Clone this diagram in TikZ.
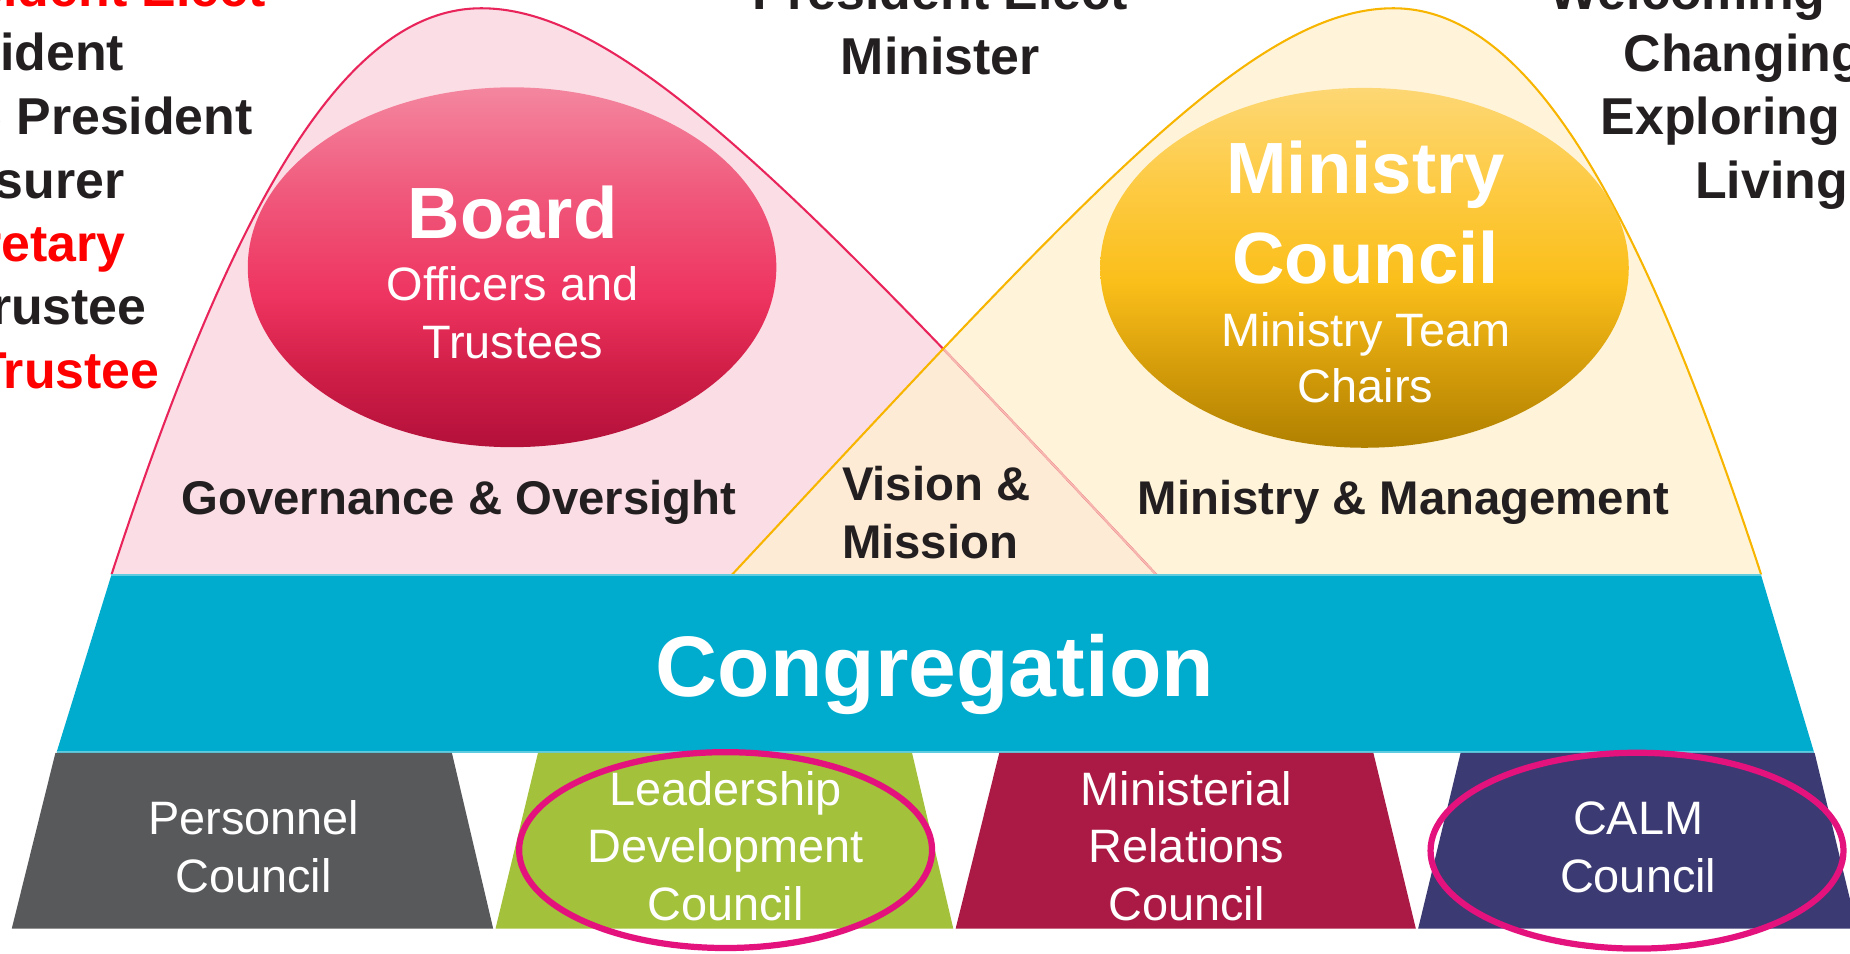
\documentclass[tikz,border=0pt]{standalone}
\usepackage{fontspec}
\setmainfont{Liberation Sans}
\definecolor{darktxt}{HTML}{231F20}
\definecolor{redtxt}{HTML}{FF0000}
\definecolor{pinkfill}{HTML}{FBDDE5}
\definecolor{pinkline}{HTML}{E8245A}
\definecolor{pinkfaint}{HTML}{F6B8AE}
\definecolor{yelfill}{HTML}{FFF4DA}
\definecolor{yelline}{HTML}{F7B500}
\definecolor{peach}{HTML}{FDEBD5}
\definecolor{bshA}{HTML}{B3103A}
\definecolor{bshB}{HTML}{D11F48}
\definecolor{bshC}{HTML}{EE3460}
\definecolor{bshD}{HTML}{F0587B}
\definecolor{bshE}{HTML}{F4869F}
\definecolor{mshA}{HTML}{B08000}
\definecolor{mshB}{HTML}{D49C0A}
\definecolor{mshC}{HTML}{FBBF1A}
\definecolor{mshD}{HTML}{FDCB45}
\definecolor{mshE}{HTML}{FDD774}
\definecolor{congr}{HTML}{00ACCE}
\definecolor{congrline}{HTML}{5FCCE0}
\definecolor{persgray}{HTML}{58595B}
\definecolor{leadgreen}{HTML}{A3C13B}
\definecolor{minired}{HTML}{AA1A44}
\definecolor{calmblue}{HTML}{3C3A72}
\definecolor{ringmag}{HTML}{E3127D}
\pgfdeclareverticalshading{boardshade}{100bp}{color(0bp)=(bshA); color(25bp)=(bshA); color(36bp)=(bshB); color(46bp)=(bshC); color(60bp)=(bshD); color(75bp)=(bshE); color(100bp)=(bshE)}
\pgfdeclareverticalshading{minshade}{100bp}{color(0bp)=(mshA); color(25bp)=(mshA); color(36bp)=(mshB); color(48bp)=(mshC); color(62bp)=(mshD); color(75bp)=(mshE); color(100bp)=(mshE)}
\tikzset{
  lst/.style={inner sep=0pt, font=\fontsize{12.5}{15}\selectfont\bfseries},
  lbl/.style={inner sep=0pt, text=darktxt, font=\fontsize{11.4}{14}\selectfont\bfseries},
  bigtxt/.style={inner sep=0pt, text=white, font=\fontsize{17.5}{21}\selectfont\bfseries},
  subtxt/.style={inner sep=0pt, text=white, font=\fontsize{11.3}{14}\selectfont},
  congtxt/.style={inner sep=0pt, text=white, font=\fontsize{20.7}{24}\selectfont\bfseries},
  hump/.style={line width=0.5pt},
  ring/.style={draw=ringmag, line width=1.5pt},
}
\def\pinkcurve{(94.5,487) .. controls (195,180) and (290,7) .. (408,7) .. controls (528,7) and (680,166) .. (980,487)}
\def\yelcurve{(1492.7,487) .. controls (1392,180) and (1298,7) .. (1181,7) .. controls (1061,7) and (920,166) .. (620.5,487)}
\begin{document}
\begin{tikzpicture}[x=0.01cm, y=-0.01cm]
\useasboundingbox (0,0) rectangle (1568,808);
\clip (0,0) rectangle (1568,808);
% humps
\fill[pinkfill] \pinkcurve -- cycle;
\fill[yelfill] \yelcurve -- cycle;
\begin{scope}
  \clip \pinkcurve -- cycle;
  \fill[peach] \yelcurve -- cycle;
\end{scope}
\draw[hump, pinkline] \pinkcurve;
\begin{scope}
  \clip \yelcurve -- cycle;
  \draw[hump, pinkfaint] \pinkcurve;
\end{scope}
\draw[hump, yelline] \yelcurve;
% ellipses
\path[shading=boardshade] (434,226.5) ellipse [x radius=224, y radius=152.5];
\path[shading=minshade] (1156.5,227) ellipse [x radius=224, y radius=152.5];
% congregation band
\fill[congr] (94.5,487) -- (1492.5,487) -- (1537.5,637.5) -- (48,637.5) -- cycle;
\draw[congrline, line width=0.5pt] (94.5,487) -- (1492.5,487);
\draw[congrline, line width=0.5pt] (48,637.5) -- (1537.5,637.5);
% councils
\fill[persgray] (47,638) -- (383,638) -- (418,787) -- (10,787) -- cycle;
\fill[leadgreen] (456,638) -- (773,638) -- (808,787) -- (420,787) -- cycle;
\fill[minired] (847,638) -- (1164,638) -- (1200,787) -- (810,787) -- cycle;
\fill[calmblue] (1238,638) -- (1538,638) -- (1574,787) -- (1202,787) -- cycle;
% left list
\node[lst, text=redtxt, anchor=base east] (l1) at (226,5.5) {President Elect};
\node[lst, text=darktxt, anchor=base east] (l2) at (106,60) {President};
\node[lst, text=darktxt, anchor=base east] (l3) at (215,114) {Vice President};
\node[lst, text=darktxt, anchor=base east] (l4) at (106,168) {Treasurer};
\node[lst, text=redtxt, anchor=base east] (l5) at (107,222) {Secretary};
\node[lst, text=darktxt, anchor=base east] (l6) at (125,275) {Trustee};
\node[lst, text=redtxt, anchor=base east] (l7) at (136,329) {Trustee};
% middle list
\node[lst, text=darktxt, anchor=base] (m1) at (797,8) {President Elect};
\node[lst, text=darktxt, anchor=base] (m2) at (797,63) {Minister};
% right list
\node[lst, text=darktxt, anchor=base west] (r1) at (1313,8) {Welcoming};
\node[lst, text=darktxt, anchor=base west] (r2) at (1375.5,61) {Changing};
\node[lst, text=darktxt, anchor=base west] (r3) at (1356,114) {Exploring};
\node[lst, text=darktxt, anchor=base west] (r4) at (1436,168) {Living};
% board text
\node[bigtxt, anchor=base] (board) at (434.5,202) {Board};
\node[subtxt, anchor=base] (board2) at (434.5,255) {Officers and};
\node[subtxt, anchor=base] (board3) at (434.5,303.6) {Trustees};
% ministry council text
\node[bigtxt, anchor=base] (mc1) at (1157.5,164) {Ministry};
\node[bigtxt, anchor=base] (mc2) at (1157.5,240) {Council};
\node[subtxt, anchor=base] (mc3) at (1157.5,293.6) {Ministry Team};
\node[subtxt, anchor=base] (mc4) at (1157.5,341.3) {Chairs};
% labels
\node[lbl, anchor=base] (gov) at (389,436.3) {Governance \& Oversight};
\node[lbl, anchor=base] (mm) at (1189.5,436.3) {Ministry \& Management};
\node[lbl, anchor=base west] (vm1) at (713,424.6) {Vision \&};
\node[lbl, anchor=base west] (vm2) at (713,473) {Mission};
\node[congtxt, anchor=base] (cong) at (792.5,590.5) {Congregation};
% council texts
\node[subtxt, anchor=base] (p1) at (215,707) {Personnel};
\node[subtxt, anchor=base] (p2) at (215,756.6) {Council};
\node[subtxt, anchor=base] (ld1) at (615,683) {Leadership};
\node[subtxt, anchor=base] (ld2) at (615,731.2) {Development};
\node[subtxt, anchor=base] (ld3) at (615,780.4) {Council};
\node[subtxt, anchor=base] (mr1) at (1005.5,683) {Ministerial};
\node[subtxt, anchor=base] (mr2) at (1005.5,731.2) {Relations};
\node[subtxt, anchor=base] (mr3) at (1005.5,780.4) {Council};
\node[subtxt, anchor=base] (c1) at (1388.5,707) {CALM};
\node[subtxt, anchor=base] (c2) at (1388.5,756.6) {Council};
% rings
\draw[ring] (615,720.5) ellipse [x radius=175, y radius=83];
\draw[ring] (1387.5,721) ellipse [x radius=175, y radius=83];
\end{tikzpicture}
\end{document}
